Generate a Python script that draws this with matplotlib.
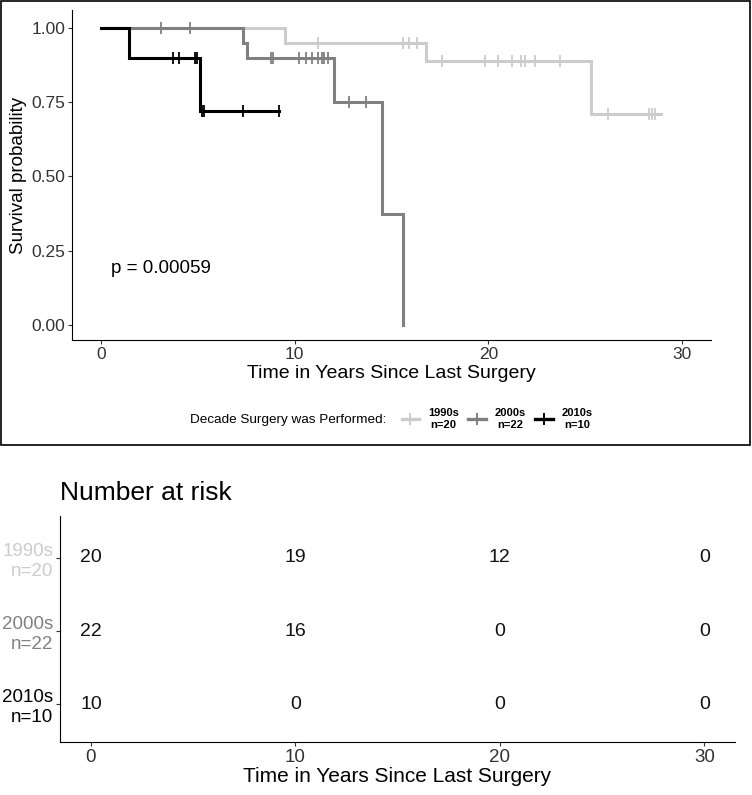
import numpy as np
import matplotlib.pyplot as plt
from matplotlib.lines import Line2D
from matplotlib.patches import Rectangle

groups = ['1990s', '2000s', '2010s']
group_n = [20, 22, 10]
colors = ['#cccccc', '#808080', '#000000']

# step curves: times where survival changes, and the level after each change
times_1990 = [0, 9.5, 16.8, 25.3, 28.9]
surv_1990 = [1.0, 0.95, 0.887, 0.71, 0.71]
cens_1990 = [11.2, 15.6, 15.9, 16.3, 17.6, 19.8, 20.5, 21.2, 21.7, 21.9, 22.4, 23.7,
             26.2, 28.3, 28.45, 28.6]

times_2000 = [0, 7.3, 7.55, 12.0, 14.5, 15.6]
surv_2000 = [1.0, 0.95, 0.90, 0.75, 0.375, 0.0]
cens_2000 = [3.1, 4.6, 8.75, 8.85, 10.2, 10.6, 10.9, 11.2, 11.4, 11.5, 11.7, 12.8, 13.7]

times_2010 = [0, 1.46, 5.1, 9.2]
surv_2010 = [1.0, 0.90, 0.72, 0.72]
cens_2010 = [3.7, 4.0, 4.85, 4.95, 5.2, 5.3, 7.3, 9.2]

risk_times = [0, 10, 20, 30]
risk_1990 = [20, 19, 12, 0]
risk_2000 = [22, 16, 0, 0]
risk_2010 = [10, 0, 0, 0]

p_text = 'p = 0.00059'
xlab = 'Time in Years Since Last Surgery'

plt.rcParams['font.family'] = ['Liberation Sans', 'DejaVu Sans']

fig = plt.figure(figsize=(7.52, 7.95), dpi=100)

W, H = 752, 795
def box(l, t, r, b):
    return [l / W, 1 - b / H, (r - l) / W, (b - t) / H]

tick_col = '#333333'
xlims = (-1.51, 31.5)

# --- survival curves
ax = fig.add_axes(box(72, 10, 711, 340))
curves = [(times_1990, surv_1990, cens_1990),
          (times_2000, surv_2000, cens_2000),
          (times_2010, surv_2010, cens_2010)]
for (t, s, c), col in zip(curves, colors):
    ax.step(t, s, where='post', color=col, lw=2.2, solid_joinstyle='miter')
    t_arr = np.array(t)
    s_arr = np.array(s)
    idx = np.searchsorted(t_arr, c, side='right') - 1
    ax.plot(c, s_arr[idx], ls='none', marker='|', ms=8, mew=1.3, color=col)

ax.set_xlim(*xlims)
ax.set_ylim(-0.05, 1.06)
ax.set_xticks([0, 10, 20, 30])
ax.set_yticks([0, 0.25, 0.5, 0.75, 1.0])
ax.set_yticklabels(['0.00', '0.25', '0.50', '0.75', '1.00'])
ax.text(0.5, 0.19, p_text, fontsize=13.5, va='center', ha='left')
ax.set_xlabel(xlab, fontsize=14, labelpad=2)
ax.set_ylabel('Survival probability', fontsize=13.5, labelpad=3)
for sp in ['top', 'right']:
    ax.spines[sp].set_visible(False)
ax.tick_params(labelsize=12.5, length=3, colors=tick_col, labelcolor=tick_col, pad=2)

# legend
fig.text(190 / W, 1 - 420 / H, 'Decade Surgery was Performed:', fontsize=9.7,
         va='center', ha='left')
handles = [Line2D([], [], color=col, lw=2.4, marker='|', ms=9, mew=1.4)
           for col in colors]
labels = [f'{g}\nn={n}' for g, n in zip(groups, group_n)]
leg = fig.legend(handles, labels, loc='center left', ncol=3,
                 bbox_to_anchor=(396 / W, 1 - 419 / H), frameon=False,
                 prop={'size': 8, 'weight': 'bold'}, handlelength=1.6,
                 handletextpad=0.8, columnspacing=0.8, borderpad=0)
for txt in leg.get_texts():
    txt.set_multialignment('center')

# frame around the top part
fig.patches.append(Rectangle((1 / W, 1 - 445 / H), 749 / W, 444 / H,
                             transform=fig.transFigure, fill=False,
                             edgecolor='black', lw=1.2))

# --- number at risk table
tx = fig.add_axes(box(60, 516, 735, 742))
for row, (vals, col) in enumerate(zip([risk_1990, risk_2000, risk_2010], colors)):
    y = 3 - row
    for xt, v in zip(risk_times, vals):
        tx.text(xt, y, str(v), ha='center', va='center', fontsize=14, color='#111111')
tx.set_xlim(*xlims)
tx.set_ylim(0.48, 3.575)
tx.set_xticks(risk_times)
tx.set_yticks([3, 2, 1])
tx.tick_params(axis='x', labelsize=13.5, length=3, colors=tick_col, labelcolor=tick_col, pad=2)
tx.tick_params(axis='y', length=3, colors=tick_col, pad=2)
tx.set_yticklabels(labels, fontsize=13.5, ha='right', multialignment='right')
for lab, col in zip(tx.get_yticklabels(), colors):
    lab.set_color(col)
for sp in ['top', 'right']:
    tx.spines[sp].set_visible(False)
tx.set_xlabel(xlab, fontsize=15, labelpad=1)
fig.text(60 / W, 1 - 493 / H, 'Number at risk', fontsize=19, va='center', ha='left')

fig.savefig('out.png', dpi=100)
